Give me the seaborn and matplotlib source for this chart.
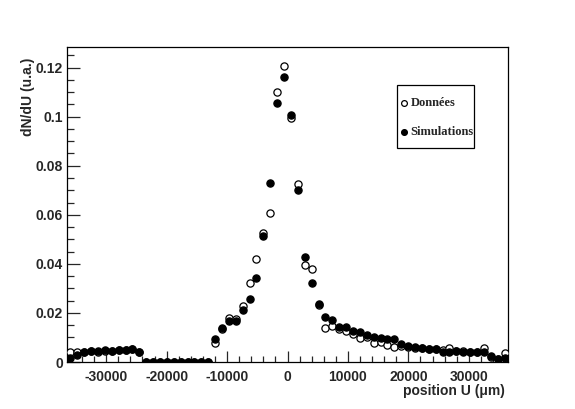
import numpy as np
import pandas as pd
import matplotlib
matplotlib.use("Agg")
import matplotlib.pyplot as plt
import seaborn as sns
from matplotlib.ticker import MultipleLocator, FuncFormatter
from matplotlib.patches import Rectangle

# histogram binning (64 bins)
x_min = -36480
x_max = 36480
n_bins = 64

donnees = [0.0042, 0.0040, 0.0042, 0.0043, 0.0042, 0.0045, 0.0046, 0.0047, 0.0050, 0.0055, 0.0042,
           0, 0, 0, 0, 0, 0, 0, 0, 0, 0,
           0.0076, 0.0133, 0.0178, 0.0176, 0.0229, 0.0320, 0.0419, 0.0525, 0.0607, 0.1101,
           0.1208, 0.0995, 0.0727, 0.0396, 0.0378, 0.0233, 0.0137, 0.0147, 0.0133, 0.0128,
           0.0114, 0.0097, 0.0103, 0.0076, 0.0083, 0.0069, 0.0062, 0.0065, 0.0062, 0.0059,
           0.0056, 0.0053, 0.0052, 0.0049, 0.0056, 0.0046, 0.0043, 0.0041, 0.0040, 0.0056,
           0.0022, 0.0011, 0.0035]
simulations = [0.0018, 0.0030, 0.0042, 0.0043, 0.0046, 0.0048, 0.0046, 0.0047, 0.0050, 0.0051, 0.0041,
               0, 0, 0, 0, 0, 0, 0, 0, 0, 0,
               0.0093, 0.0139, 0.0169, 0.0169, 0.0214, 0.0258, 0.0344, 0.0514, 0.0729, 0.1056,
               0.1160, 0.1008, 0.0702, 0.0430, 0.0321, 0.0237, 0.0185, 0.0171, 0.0144, 0.0144,
               0.0128, 0.0121, 0.0110, 0.0103, 0.0097, 0.0093, 0.0093, 0.0075, 0.0065, 0.0062,
               0.0057, 0.0054, 0.0053, 0.0042, 0.0042, 0.0046, 0.0042, 0.0041, 0.0041, 0.0042,
               0.0024, 0.0012, 0.0018]

labels = ["Données", "Simulations"]
x_title = "position U (μm)"
y_title = "dN/dU (u.a.)"

width = (x_max - x_min) / n_bins
centers = x_min + width * (np.arange(n_bins) + 0.5)
df = pd.DataFrame({"x": np.concatenate([centers, centers]),
                   "y": donnees + simulations,
                   "serie": [labels[0]] * n_bins + [labels[1]] * n_bins})

sns.set_style("white")
plt.rcParams["font.family"] = ["Liberation Sans", "DejaVu Sans"]

fig = plt.figure(figsize=(5.75, 4.09), dpi=100)
ax = fig.add_axes([67 / 575, 1 - 362 / 409, 441 / 575, 315 / 409])

sns.scatterplot(data=df[df.serie == labels[0]], x="x", y="y", ax=ax, marker="o",
                s=27, facecolor="white", edgecolor="black", linewidth=0.9, label=labels[0], zorder=3)
sns.scatterplot(data=df[df.serie == labels[1]], x="x", y="y", ax=ax, marker="o",
                s=27, color="black", edgecolor="black", linewidth=0.9, label=labels[1], zorder=4)

ax.set_xlim(x_min, x_max)
ax.set_ylim(0, 0.1284)

ax.xaxis.set_major_locator(MultipleLocator(10000))
ax.xaxis.set_minor_locator(MultipleLocator(2000))
ax.yaxis.set_major_locator(MultipleLocator(0.02))
ax.yaxis.set_minor_locator(MultipleLocator(0.005))
ax.yaxis.set_major_formatter(FuncFormatter(lambda v, p: "%g" % round(v, 4)))
ax.xaxis.set_major_formatter(FuncFormatter(lambda v, p: "%d" % round(v)))

ax.tick_params(axis="x", which="major", direction="in", length=8, width=0.9, pad=6,
               labelsize=10, bottom=True, top=False)
ax.tick_params(axis="x", which="minor", direction="in", length=4, width=0.9, bottom=True, top=False)
ax.tick_params(axis="y", which="major", direction="in", length=9.5, width=0.9, pad=3,
               labelsize=10, left=True, right=False)
ax.tick_params(axis="y", which="minor", direction="in", length=4.7, width=0.9, left=True, right=False)
for lab in ax.get_xticklabels() + ax.get_yticklabels():
    lab.set_fontweight("bold")

for sp in ax.spines.values():
    sp.set_color("black")
    sp.set_linewidth(0.9)

ax.set_xlabel(x_title, fontsize=10, fontweight="bold", ha="right")
ax.xaxis.set_label_coords((505 - 67) / 441, (362 - 384) / 315)
ax.xaxis.label.set_va("top")
ax.set_ylabel(y_title, fontsize=10, fontweight="bold", ha="right")
ax.yaxis.set_label_coords((35 - 67) / 441, (362 - 58) / 315)

# legend box (TLegend-style frame)
bx0, bx1, by0, by1 = 397, 474, 85, 148
ax.add_patch(Rectangle(((bx0 - 67) / 441, (362 - by1) / 315), (bx1 - bx0) / 441, (by1 - by0) / 315,
                       transform=ax.transAxes, facecolor="white", edgecolor="black",
                       linewidth=0.9, zorder=5))
leg = ax.legend(loc="upper left", bbox_to_anchor=((401 - 67) / 441, (362 - 97) / 315),
                frameon=False,
                prop={"family": "Liberation Serif", "weight": "bold", "size": 9},
                handlelength=0.5, handletextpad=0.25, labelspacing=1.4, borderpad=0.0,
                borderaxespad=0, markerscale=0.8)
leg.set_zorder(6)

fig.savefig("out.png", dpi=100, facecolor="white")
